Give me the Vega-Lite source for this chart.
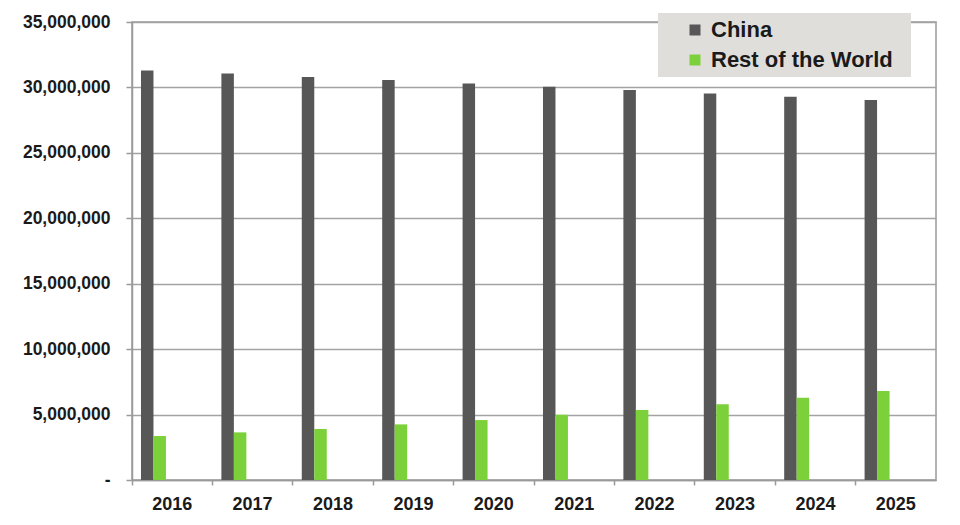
{
  "$schema": "https://vega.github.io/schema/vega-lite/v6.json",
  "autosize": {"type": "none"},
  "padding": {"left": 132, "top": 22, "right": 24, "bottom": 45},
  "width": 804,
  "height": 458,
  "background": "#ffffff",
  "data": {"values": [
    {"year": "2016", "region": "China", "value": 31300000},
    {"year": "2017", "region": "China", "value": 31070000},
    {"year": "2018", "region": "China", "value": 30800000},
    {"year": "2019", "region": "China", "value": 30560000},
    {"year": "2020", "region": "China", "value": 30300000},
    {"year": "2021", "region": "China", "value": 30050000},
    {"year": "2022", "region": "China", "value": 29800000},
    {"year": "2023", "region": "China", "value": 29540000},
    {"year": "2024", "region": "China", "value": 29280000},
    {"year": "2025", "region": "China", "value": 29030000},
    {"year": "2016", "region": "Rest of the World", "value": 3360000},
    {"year": "2017", "region": "Rest of the World", "value": 3640000},
    {"year": "2018", "region": "Rest of the World", "value": 3900000},
    {"year": "2019", "region": "Rest of the World", "value": 4250000},
    {"year": "2020", "region": "Rest of the World", "value": 4580000},
    {"year": "2021", "region": "Rest of the World", "value": 4990000},
    {"year": "2022", "region": "Rest of the World", "value": 5350000},
    {"year": "2023", "region": "Rest of the World", "value": 5780000},
    {"year": "2024", "region": "Rest of the World", "value": 6290000},
    {"year": "2025", "region": "Rest of the World", "value": 6800000}
  ]},
  "mark": {"type": "bar"},
  "encoding": {
    "x": {
      "field": "year", "type": "nominal",
      "scale": {"paddingInner": 0, "paddingOuter": 0},
      "axis": {
        "title": null, "labelAngle": 0, "bandPosition": 0,
        "labelFont": "Liberation Sans", "labelFontWeight": "bold", "labelFontSize": 18,
        "labelColor": "#1a1a1a", "labelPadding": 10,
        "domainColor": "#9a9a9a", "domainWidth": 1.5,
        "tickColor": "#9a9a9a", "tickWidth": 1.5, "tickSize": 5,
        "grid": false
      }
    },
    "xOffset": {
      "field": "region", "type": "nominal",
      "scale": {"domain": ["China", "Rest of the World", "d1", "d2", "d3"], "paddingInner": 0, "paddingOuter": 0.72}
    },
    "y": {
      "field": "value", "type": "quantitative",
      "scale": {"domain": [0, 35000000], "nice": false},
      "axis": {
        "title": null,
        "values": [0, 5000000, 10000000, 15000000, 20000000, 25000000, 30000000, 35000000],
        "labelExpr": "datum.value == 0 ? '-' : format(datum.value, ',')",
        "labelFont": "Liberation Sans", "labelFontWeight": "bold", "labelFontSize": 17.5,
        "labelColor": "#1a1a1a", "labelPadding": 16,
        "domainColor": "#9a9a9a", "domainWidth": 1.5,
        "tickColor": "#9a9a9a", "tickWidth": 1.5, "tickSize": 6,
        "grid": true, "gridColor": "#a3a3a3", "gridWidth": 1.5
      }
    },
    "color": {
      "field": "region", "type": "nominal",
      "scale": {"domain": ["China", "Rest of the World"], "range": ["#575757", "#7cd13a"]},
      "legend": {
        "title": "\u00a0", "titleOrient": "right", "titleFontSize": 10, "titlePadding": 12,
        "orient": "none", "legendX": 526, "legendY": -9,
        "fillColor": "#e0dedb", "padding": 6, "symbolOffset": 20,
        "symbolType": "square", "symbolSize": 121, "symbolStrokeWidth": 0,
        "labelFont": "Liberation Sans", "labelFontWeight": "bold", "labelFontSize": 22,
        "labelColor": "#1a1a1a", "labelOffset": 5, "rowPadding": 8, "labelLimit": 400
      }
    }
  },
  "config": {
    "view": {"stroke": "#9a9a9a", "strokeWidth": 1.5}
  }
}
